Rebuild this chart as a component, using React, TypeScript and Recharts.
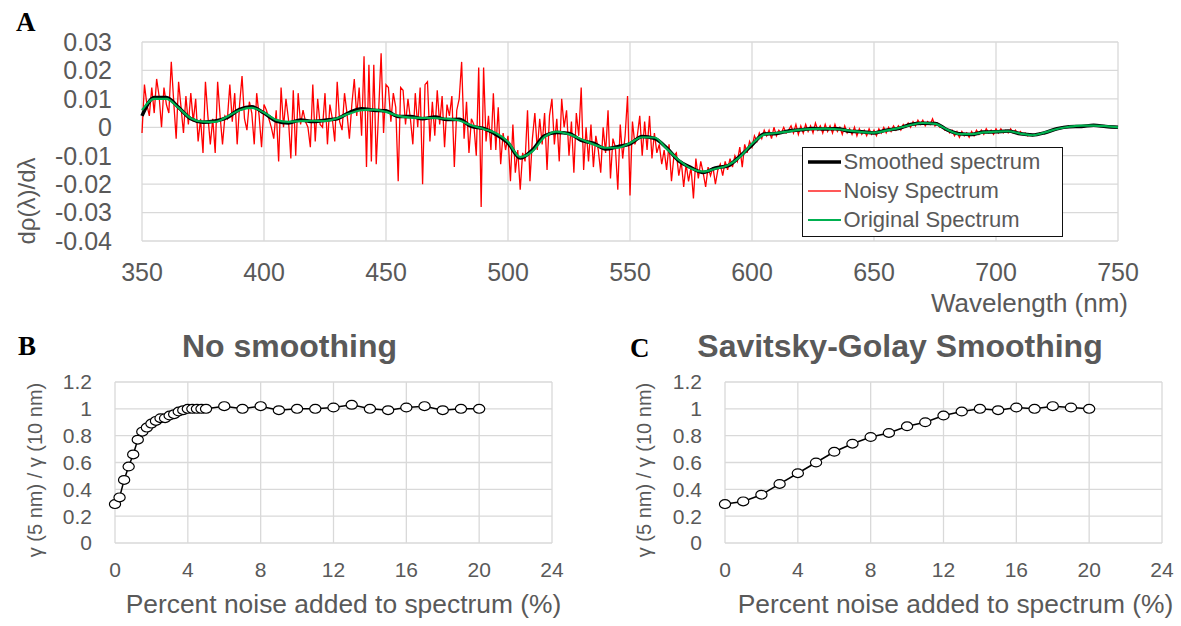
import React from 'react';
import { LineChart, Line, XAxis, YAxis, CartesianGrid, Legend } from 'recharts';

const FONT = '"Liberation Sans", Arial, Helvetica, sans-serif';
const SERIF = '"Liberation Serif", "Times New Roman", serif';
const TEXT = '#595959';
const GRID = '#d9d9d9';

// ---------- Panel A: first-derivative spectra ----------
const wavelengthTicks = [350, 400, 450, 500, 550, 600, 650, 700, 750];
const derivTicks = [-0.04, -0.03, -0.02, -0.01, 0, 0.01, 0.02, 0.03];

// Noisy spectrum, one value per nm from 350 nm (values in units of 1e-3)
const NOISY_START_NM = 350;
const noisyMilli = [
  -2, 15, 8, 4, 14, 5, 17, 11, 0, 14,
  8, 5, 23, 9, -4, 16, 7, -2, 11, 1,
  12, 2, 10, -5, 3, -9, 16, 4, -6, 3,
  -9, 16, 4, -6, 4, 3, 15, 2, 12, -6,
  8, 18, 3, -1, 9, 5, -6, 12, 4, -7,
  8, 6, 3, 0, -4, 6, -12, 14, 0, 10,
  3, -11, 13, -10, 12, 1, 6, 2, 0, -7,
  15, -5, 10, 1, 0, 12, -6, 8, 3, -5,
  16, 2, -1, 12, 5, -4, 8, 17, 4, 14,
  -3, 25, -14, 22, -12, 22, -13, 6, 26, -2,
  15, 14, 2, 12, 7, -19, 14, 13, 1, 10,
  3, -6, 12, 0, 14, -20, 15, 16, -5, 9,
  -3, 13, 1, 11, -7, 8, 4, 11, -14, 6,
  10, 23, -4, 9, -9, 3, 1, -10, 21, -28,
  21, -5, 4, -8, 12, -8, 7, -13, -2, -8,
  -3, -19, 1, -16, -8, -22, -9, -12, 6, -19,
  -4, 5, -8, 3, -6, 5, -15, 4, 10, -6,
  3, -12, 10, 0, 6, -10, 2, -16, 5, -3,
  14, -15, 0, -12, 1, -14, -3, -8, -16, 0,
  -9, 6, -18, -4, -7, -22, 1, -11, -3, 11,
  -24, 2, -6, -3, 4, -10, 2, -8, 4, -11,
  -2, -9, -6, -13, -8, -15, -6, -19, -10, -9,
  -17, -12, -21, -13, -19, -14, -25, -11, -18, -12,
  -16, -21, -14, -17, -14, -20, -15, -13, -17, -12,
  -15, -11, -14, -10, -12, -7, -14, -6, -9, -5,
  -7, -3, -5, -2, -4, -1, -3, -1, -4, 0,
  -3, -1, -2, 0, -2, -1, 0.5, -2, 1, -2.5,
  0.5, -2, 1, -1.5, 0.5, -2, 1.5, -1, 0.5, -2,
  1, -1.5, 0.5, -2, 1, -1.5, 0, -2.5, 0.5, -2,
  -0.5, -2.5, 0, -3, -0.5, -2.5, -1, -3, -0.5, -2.5,
  -1, -3, -0.5, -2, 0, -2, 0, -1.5, 0.5, -1,
  0.5, -1, 1, 0, 1.5, 0, 2, 0.5, 2.5, 1,
  2.5, 0.5, 2, 1, 3, 0.5, 1.5, 0, 0.5, -1,
  -0.5, -2, -1, -3, -1.5, -3.5, -1.5, -3, -2, -3.5,
  -1.5, -3, -1, -2.5, -1, -2.5, -0.5, -2, -1, -2.5,
  -0.5, -2, -0.5, -2, -1, -2, -0.5, -2, -1, -2.5,
  -1.5, -2.5, -2, -3, -2.5, -3, -2.5, -2.5, -2, -2,
  -1.8, -1.6, -1.3, -1.1, -0.8, -0.6, -0.4, -0.2, 0, 0.1,
  0.2, 0.3, 0.4, 0.5, 0.6, 0.6, 0.6, 0.7, 0.6, 0.6,
  0.6, 0.5, 0.6, 0.5, 0.4, 0.4, 0.3, 0.2, 0.1, 0.1,
  0,
];

// Original and smoothed spectra sampled every 5 nm (values in units of 1e-3)
const coarseWavelengths = [
  350, 355, 360, 365, 370, 375, 380, 385, 390, 395,
  400, 405, 410, 415, 420, 425, 430, 435, 440, 445,
  450, 455, 460, 465, 470, 475, 480, 485, 490, 495,
  500, 505, 510, 515, 520, 525, 530, 535, 540, 545,
  550, 555, 560, 565, 570, 575, 580, 585, 590, 595,
  600, 605, 610, 615, 620, 625, 630, 635, 640, 645,
  650, 655, 660, 665, 670, 675, 680, 685, 690, 695,
  700, 705, 710, 715, 720, 725, 730, 735, 740, 745,
  750,
];
const originalMilli = [
  6, 10, 10, 6.8, 3.2, 2.0, 1.9, 3.8, 6.0, 6.8,
  5.2, 2.6, 1.9, 2.2, 2.3, 2.2, 3.2, 4.8, 6.0, 6.2,
  5.4, 4.0, 3.4, 3.3, 3.2, 3.0, 2.4, 0.7, -0.6, -2.0,
  -5.1, -10.5, -8.5, -3.4, -1.5, -2.5, -4.2, -6.0, -7.2, -7.2,
  -5.5, -3.5, -3.6, -7.5, -11.5, -14.5, -15.6, -14.6, -13.4, -10.5,
  -5.8, -2.6, -2.0, -1.5, -0.8, -0.6, -0.5, -0.7, -1.2, -1.7,
  -1.9, -1.2, -0.3, 0.8, 1.5, 1.2, -0.8, -2.4, -2.4, -1.8,
  -1.5, -1.4, -2.2, -2.8, -1.8, -0.6, 0.2, 0.6, 0.6, 0.4,
  0,
];
const smoothedMilli = [
  4, 10.5, 10.5, 7, 3, 1.8, 2.2, 3.5, 6.3, 7.2,
  5, 2.2, 1.5, 2.6, 2.0, 2.5, 3.0, 5.2, 6.5, 6.0,
  5.8, 3.8, 3.8, 3.0, 3.6, 2.7, 2.8, 0.3, -0.4, -2.5,
  -5.5, -10.8, -8.0, -3.0, -1.8, -2.2, -4.6, -5.6, -7.6, -6.8,
  -5.8, -3.2, -3.9, -7.2, -11.8, -14.2, -15.9, -14.3, -13.6, -10.2,
  -6.2, -2.4, -2.2, -1.3, -0.9, -0.4, -0.6, -0.5, -1.4, -1.6,
  -2.0, -1.0, -0.4, 1.0, 1.4, 1.3, -0.9, -2.3, -2.5, -1.7,
  -1.6, -1.3, -2.3, -2.7, -1.9, -0.5, 0.2, 0.3, 0.7, 0.3,
  0,
];

const noisySeries = noisyMilli.map((m, i) => ({ nm: NOISY_START_NM + i, v: m / 1000 }));
const originalSeries = coarseWavelengths.map((nm, i) => ({ nm, v: originalMilli[i] / 1000 }));
const smoothedSeries = coarseWavelengths.map((nm, i) => ({ nm, v: smoothedMilli[i] / 1000 }));

const legendItems = [
  { label: 'Smoothed spectrum', color: '#000000', width: 3.5 },
  { label: 'Noisy Spectrum', color: '#ff2020', width: 1.3 },
  { label: 'Original Spectrum', color: '#00b050', width: 2.2 },
];

// ---------- Panels B and C: ratio vs. added noise ----------
const noiseTicks = [0, 4, 8, 12, 16, 20, 24];
const ratioTicks = [0, 0.2, 0.4, 0.6, 0.8, 1, 1.2];

const noiseLevelsB = [
  0, 0.25, 0.5, 0.75, 1, 1.25, 1.5, 1.75, 2, 2.25, 2.5, 2.75, 3, 3.25, 3.5, 3.75, 4, 4.25, 4.5, 4.75, 5,
  6, 7, 8, 9, 10, 11, 12, 13, 14, 15, 16, 17, 18, 19, 20,
];
const ratioB = [
  0.29, 0.34, 0.47, 0.57, 0.66, 0.77, 0.83, 0.86, 0.89, 0.91, 0.93, 0.93, 0.95, 0.96, 0.98, 0.99, 1.0, 1.0, 1.0, 1.0, 1.0,
  1.02, 1.0, 1.02, 0.99, 1.0, 1.0, 1.01, 1.03, 1.0, 0.99, 1.01, 1.02, 0.99, 1.0, 1.0,
];

const noiseLevelsC = [0, 1, 2, 3, 4, 5, 6, 7, 8, 9, 10, 11, 12, 13, 14, 15, 16, 17, 18, 19, 20];
const ratioC = [
  0.29, 0.31, 0.36, 0.44, 0.52, 0.6, 0.68, 0.74, 0.79, 0.82, 0.87, 0.9, 0.95, 0.98, 1.0, 0.99, 1.01, 1.0, 1.02, 1.01, 1.0,
];

const seriesB = noiseLevelsB.map((x, i) => ({ x, y: ratioB[i] }));
const seriesC = noiseLevelsC.map((x, i) => ({ x, y: ratioC[i] }));

const OpenMarker = (props: any) => {
  const { cx, cy } = props;
  if (cx == null || cy == null) return null;
  return <ellipse cx={cx} cy={cy} rx={5.6} ry={4.4} fill="#ffffff" stroke="#000000" strokeWidth={1.2} />;
};

const SpectrumLegend = () => (
  <div
    style={{
      width: 261,
      height: 90,
      boxSizing: 'border-box',
      border: '1.5px solid #111',
      background: '#fff',
      fontFamily: FONT,
      fontSize: 22,
      color: TEXT,
    }}
  >
    {legendItems.map((item) => (
      <div key={item.label} style={{ display: 'flex', alignItems: 'center', height: 29.3, marginTop: -0.5 }}>
        <svg width={33} height={10} style={{ marginLeft: 4.5, flex: 'none' }}>
          <line x1={0} y1={5} x2={33} y2={5} stroke={item.color} strokeWidth={item.width} />
        </svg>
        <span style={{ marginLeft: 3, lineHeight: '24px', whiteSpace: 'nowrap' }}>{item.label}</span>
      </div>
    ))}
  </div>
);

const RatioPanel = ({ data, left, width, marginLeft, marginRight }: any) => (
  <div style={{ position: 'absolute', left, top: 370 }}>
    <LineChart
      width={width}
      height={215}
      margin={{ top: 12, right: marginRight, bottom: 0, left: marginLeft }}
    >
      <CartesianGrid stroke={GRID} strokeWidth={1.3} />
      <XAxis
        dataKey="x"
        type="number"
        domain={[0, 24]}
        ticks={noiseTicks}
        interval={0}
        axisLine={false}
        tickLine={false}
        tickSize={0}
        tickMargin={19}
        height={42}
        tick={{ fill: TEXT, fontSize: 21, fontFamily: FONT }}
      />
      <YAxis
        type="number"
        domain={[0, 1.2]}
        ticks={ratioTicks}
        interval={0}
        width={60}
        axisLine={false}
        tickLine={false}
        tickSize={0}
        tickMargin={23}
        tickFormatter={(v: number) => String(v)}
        tick={{ fill: TEXT, fontSize: 21, fontFamily: FONT }}
      />
      <Line
        data={data}
        dataKey="y"
        type="linear"
        stroke="#000"
        strokeWidth={1.5}
        dot={<OpenMarker />}
        activeDot={false}
        isAnimationActive={false}
      />
    </LineChart>
  </div>
);

export default function App() {
  return (
    <div
      style={{
        position: 'absolute',
        left: 0,
        top: 0,
        width: 1181,
        height: 626,
        background: '#fff',
        overflow: 'hidden',
        fontFamily: FONT,
      }}
    >
      <div style={{ position: 'absolute', left: 0, top: 0 }}>
        <LineChart width={1181} height={330} margin={{ top: 42, right: 63, bottom: 49, left: 62 }}>
          <CartesianGrid stroke={GRID} strokeWidth={1.3} />
          <XAxis
            dataKey="nm"
            type="number"
            domain={[350, 750]}
            ticks={wavelengthTicks}
            interval={0}
            axisLine={false}
            tickLine={false}
            tickSize={0}
            tickMargin={22}
            height={40}
            tick={{ fill: TEXT, fontSize: 25, fontFamily: FONT }}
          />
          <YAxis
            type="number"
            domain={[-0.04, 0.03]}
            ticks={derivTicks}
            interval={0}
            width={80}
            axisLine={false}
            tickLine={false}
            tickSize={0}
            tickMargin={30}
            tickFormatter={(v: number) => String(v)}
            tick={{ fill: TEXT, fontSize: 25, fontFamily: FONT }}
          />
          <Line
            data={noisySeries}
            dataKey="v"
            name="Noisy Spectrum"
            type="linear"
            stroke="#ff0000"
            strokeWidth={1.3}
            dot={false}
            activeDot={false}
            isAnimationActive={false}
          />
          <Line
            data={smoothedSeries}
            dataKey="v"
            name="Smoothed spectrum"
            type="monotone"
            stroke="#000000"
            strokeWidth={3.5}
            dot={false}
            activeDot={false}
            isAnimationActive={false}
          />
          <Line
            data={originalSeries}
            dataKey="v"
            name="Original Spectrum"
            type="monotone"
            stroke="#00b050"
            strokeWidth={2.2}
            dot={false}
            activeDot={false}
            isAnimationActive={false}
          />
          <Legend
            layout="vertical"
            align="center"
            verticalAlign="middle"
            content={<SpectrumLegend />}
            wrapperStyle={{ left: 802, top: 147, width: 261, height: 90 }}
          />
        </LineChart>
      </div>

      <RatioPanel data={seriesB} left={0} width={600} marginLeft={55} marginRight={48} />
      <RatioPanel data={seriesC} left={600} width={581} marginLeft={65} marginRight={19} />

      <svg
        width={1181}
        height={626}
        style={{ position: 'absolute', left: 0, top: 0, pointerEvents: 'none' }}
      >
        <text x={16} y={31} fontFamily={SERIF} fontWeight="bold" fontSize={27} fill="#000">A</text>
        <text x={18} y={355} fontFamily={SERIF} fontWeight="bold" fontSize={27} fill="#000">B</text>
        <text x={630} y={357} fontFamily={SERIF} fontWeight="bold" fontSize={27} fill="#000">C</text>

        <text x={1128} y={312} textAnchor="end" fontFamily={FONT} fontSize={26} fill={TEXT}>
          Wavelength (nm)
        </text>
        <text
          x={35}
          y={201}
          textAnchor="middle"
          fontFamily={FONT}
          fontSize={24}
          fill={TEXT}
          transform="rotate(-90 35 201)"
        >
          dρ(λ)/dλ
        </text>

        <text x={289.5} y={357} textAnchor="middle" fontFamily={FONT} fontWeight="bold" fontSize={32} fill={TEXT}>
          No smoothing
        </text>
        <text x={900} y={357} textAnchor="middle" fontFamily={FONT} fontWeight="bold" fontSize={32} fill={TEXT}>
          Savitsky-Golay Smoothing
        </text>

        <text
          x={42}
          y={470}
          textAnchor="middle"
          fontFamily={FONT}
          fontSize={20}
          fill={TEXT}
          transform="rotate(-90 42 470)"
        >
          γ (5 nm) / γ (10 nm)
        </text>
        <text
          x={651}
          y={470}
          textAnchor="middle"
          fontFamily={FONT}
          fontSize={20}
          fill={TEXT}
          transform="rotate(-90 651 470)"
        >
          γ (5 nm) / γ (10 nm)
        </text>

        <text x={343.5} y={613} textAnchor="middle" fontFamily={FONT} fontSize={26.4} fill={TEXT}>
          Percent noise added to spectrum (%)
        </text>
        <text x={955.5} y={613} textAnchor="middle" fontFamily={FONT} fontSize={26.4} fill={TEXT}>
          Percent noise added to spectrum (%)
        </text>
      </svg>
    </div>
  );
}
